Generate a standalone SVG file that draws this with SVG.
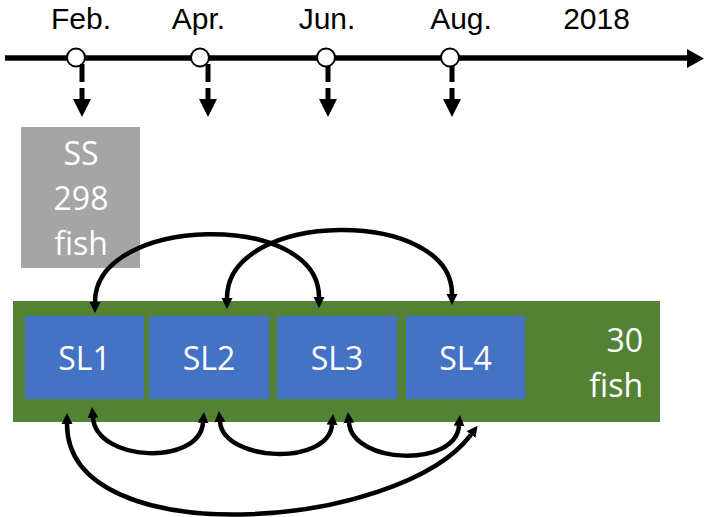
<svg xmlns="http://www.w3.org/2000/svg" width="708" height="517" viewBox="0 0 708 517">
  <style>
    .lbl { font-family: "Liberation Sans", "Open Sans", sans-serif; font-size: 30px; fill: #000; text-anchor: middle; }
    .wt { font-family: "Open Sans", "Liberation Sans", sans-serif; font-size: 32px; fill: #fff; text-anchor: middle; }
    .wr { font-family: "Open Sans", "Liberation Sans", sans-serif; font-size: 32px; fill: #fff; text-anchor: end; }
    .sl { fill: #4472c4; }
    .arc { fill: none; stroke: #000; stroke-width: 4.5; marker-start: url(#ah); marker-end: url(#ah); }
    .dash { stroke: #000; stroke-width: 5; }
    .tick { fill: #fff; stroke: #000; stroke-width: 2; }
  </style>
  <defs>
    <marker id="ah" viewBox="0 -6 11 12" refX="0" refY="0" markerWidth="11" markerHeight="12" markerUnits="userSpaceOnUse" orient="auto-start-reverse">
      <path d="M0,-5.5 L11,0 L0,5.5 z" fill="#000"/>
    </marker>
  </defs>

  <g id="timeline">
    <line x1="5" y1="58" x2="688" y2="58" stroke="#000" stroke-width="5.5"/>
    <polygon points="687,49 704,58.5 687,68" fill="#000"/>
    <text class="lbl" x="81" y="29">Feb.</text>
    <text class="lbl" x="198.5" y="29">Apr.</text>
    <text class="lbl" x="327" y="29">Jun.</text>
    <text class="lbl" x="461" y="29">Aug.</text>
    <text class="lbl" x="596.5" y="29">2018</text>
  </g>

  <g id="connectors">
    <g id="sampling-arrows">
      <line class="dash" x1="82" y1="64" x2="82" y2="82"/>
      <line class="dash" x1="82" y1="88" x2="82" y2="100"/>
      <polygon points="73,99 91,99 82,117"/>
      <line class="dash" x1="208" y1="64" x2="208" y2="82"/>
      <line class="dash" x1="208" y1="88" x2="208" y2="100"/>
      <polygon points="199,99 217,99 208,117"/>
      <line class="dash" x1="328" y1="64" x2="328" y2="82"/>
      <line class="dash" x1="328" y1="88" x2="328" y2="100"/>
      <polygon points="319,99 337,99 328,117"/>
      <line class="dash" x1="452" y1="64" x2="452" y2="82"/>
      <line class="dash" x1="452" y1="88" x2="452" y2="100"/>
      <polygon points="443,99 461,99 452,117"/>
    </g>
  </g>

  <g id="ticks">
    <circle class="tick" cx="76" cy="57.5" r="9"/>
    <circle class="tick" cx="200" cy="57.5" r="9"/>
    <circle class="tick" cx="326" cy="57.5" r="9"/>
    <circle class="tick" cx="450" cy="57.5" r="9"/>
  </g>

  <g id="SS">
    <rect x="21" y="127" width="119" height="141" fill="#a5a5a5"/>
    <text class="wt" x="81" y="165">SS</text>
    <text class="wt" x="81" y="210">298</text>
    <text class="wt" x="81" y="255">fish</text>
  </g>

  <g id="group30">
    <rect x="13" y="301" width="647" height="121" fill="#548235"/>
    <text class="wr" x="643" y="352">30</text>
    <text class="wr" x="643" y="397">fish</text>
  </g>
  <g id="SL1">
    <rect class="sl" x="25" y="316" width="119" height="83"/>
    <text class="wt" x="84.5" y="370">SL1</text>
  </g>
  <g id="SL2">
    <rect class="sl" x="149" y="316" width="120" height="83"/>
    <text class="wt" x="209" y="370">SL2</text>
  </g>
  <g id="SL3">
    <rect class="sl" x="277" y="316" width="120" height="83"/>
    <text class="wt" x="337" y="370">SL3</text>
  </g>
  <g id="SL4">
    <rect class="sl" x="406" y="316" width="119" height="83"/>
    <text class="wt" x="465.5" y="370">SL4</text>
  </g>

  <g id="arcs">
    <path class="arc" d="M95,302 C95,215 319,210 319,297"/>
    <path class="arc" d="M227,298 C227,209 452,207 452,294"/>
    <path class="arc" d="M93,418 C97,462 199,466 203,423"/>
    <path class="arc" d="M220,422 C224,462 328,466 332,425"/>
    <path class="arc" d="M349,423 C353,464 455,468 459,426"/>
    <path class="arc" d="M67,424 C67,555 399,530.6 471,434.6"/>
  </g>
</svg>
